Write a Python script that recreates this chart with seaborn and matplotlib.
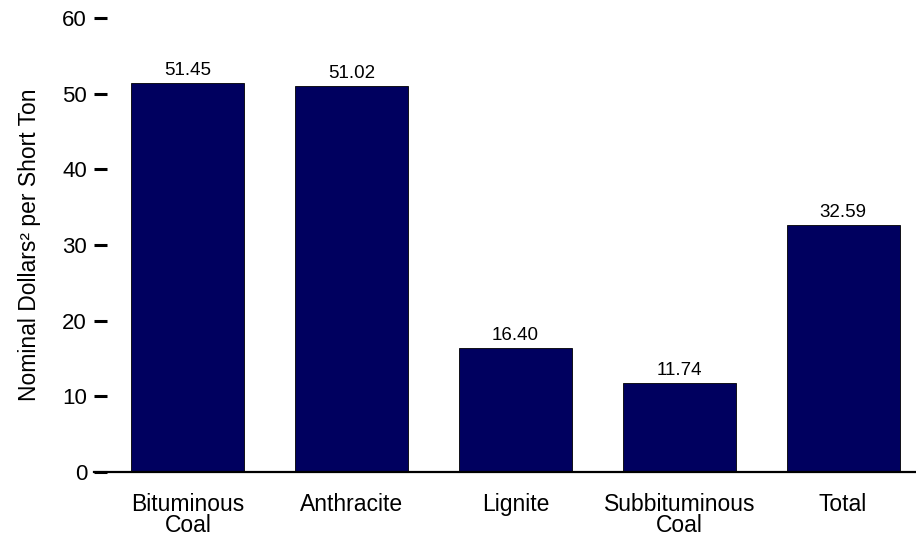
import pandas as pd
import numpy as np
import matplotlib.pyplot as plt
import seaborn as sns

# Datos del gráfico
categorias = ['Bituminous\nCoal', 'Anthracite', 'Lignite', 'Subbituminous\nCoal', 'Total']
valores = [51.45, 51.02, 16.40, 11.74, 32.59]
ticks_y = [0, 10, 20, 30, 40, 50, 60]

df = pd.DataFrame({'tipo': categorias, 'precio': valores})

sns.set_style('white')
plt.rcParams['font.family'] = ['Liberation Sans', 'DejaVu Sans']
plt.rcParams['text.color'] = 'black'
plt.rcParams['axes.labelcolor'] = 'black'
plt.rcParams['xtick.color'] = 'black'
plt.rcParams['ytick.color'] = 'black'

fig = plt.figure(figsize=(9.16, 5.38), dpi=100)
ax = fig.add_axes([94 / 916, 1 - 472 / 538, 1 - 94 / 916, (472 - 18) / 538])

sns.barplot(data=df, x='tipo', y='precio', color='#00005f', saturation=1,
            width=0.69, edgecolor='black', linewidth=0.6, ax=ax)

for cont in ax.containers:
    ax.bar_label(cont, fmt='%.2f', padding=3, fontsize=13.5, color='black')

ax.set_ylim(0, 60)
ax.set_xlim(-0.573, 4.445)
ax.set_yticks(ticks_y)
ax.set_xlabel('')
ax.set_ylabel('Nominal Dollars² per Short Ton', fontsize=16.5, labelpad=15)

for s in ['left', 'top', 'right']:
    ax.spines[s].set_visible(False)
ax.spines['bottom'].set_color('black')
ax.spines['bottom'].set_linewidth(1.6)

ax.tick_params(axis='y', direction='in', length=9, width=2.2, color='black',
               labelsize=16, pad=5, left=True)
ax.tick_params(axis='x', length=0, labelsize=16.5, pad=15)
for lbl in ax.get_xticklabels():
    lbl.set_multialignment('center')
    lbl.set_linespacing(0.9)

fig.savefig('out.png', dpi=100)
